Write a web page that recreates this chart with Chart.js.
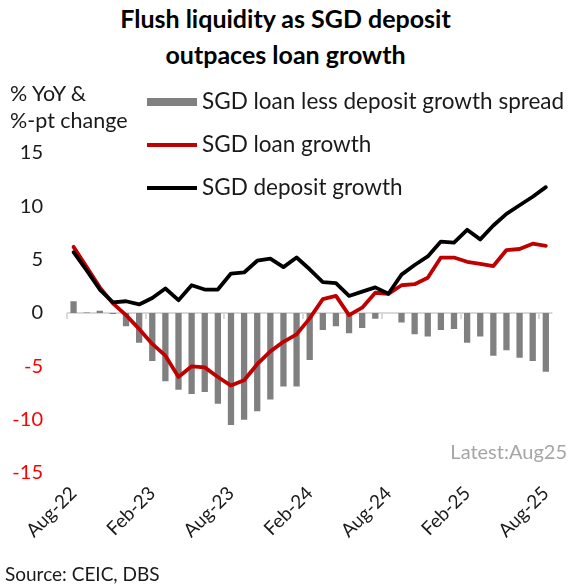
<!DOCTYPE html>
<html>
<head>
<meta charset="utf-8">
<script src="https://cdn.jsdelivr.net/npm/chart.js@4.4.1/dist/chart.umd.min.js"></script>
<style>
  html, body { margin: 0; padding: 0; background: #fff; }
  body { width: 571px; height: 586px; position: relative; overflow: hidden;
         font-family: Lato, "Open Sans", sans-serif; color: #1a1a1a; }
  #chart { position: absolute; left: 0; top: 0; }
  .txt { position: absolute; white-space: nowrap; line-height: 1; }
  #title { left: 0; width: 571px; top: 13px; text-align: center; font-weight: bold;
           font-size: 25px; line-height: 36px; color: #000; }
  #ytitle { left: 10px; top: 80px; font-size: 21.5px; line-height: 27px; }
  .leg { position: absolute; left: 147px; font-size: 22.5px; line-height: 1; white-space: nowrap; }
  .leg .sw { position: absolute; left: 0; width: 50px; }
  .leg span.t { position: absolute; left: 55px; top: -12px; }
  #latest { right: 4px; top: 441px; font-size: 20px; color: #a6a6a6; }
  #source { left: 5px; top: 564px; font-size: 19px; }
</style>
</head>
<body>
<canvas id="chart" width="571" height="586"></canvas>
<div id="title">Flush liquidity as SGD deposit<br>outpaces loan growth</div>
<div id="ytitle" class="txt">% YoY &amp;<br>%-pt change</div>
<div class="leg" style="top:102px"><div class="sw" style="top:-4px;height:8px;background:#808080"></div><span class="t">SGD loan less deposit growth spread</span></div>
<div class="leg" style="top:145px"><div class="sw" style="top:-2px;height:4px;background:#c00000"></div><span class="t">SGD loan growth</span></div>
<div class="leg" style="top:188px"><div class="sw" style="top:-2px;height:4px;background:#000"></div><span class="t">SGD deposit growth</span></div>
<div id="latest" class="txt">Latest:Aug25</div>
<div id="source" class="txt">Source: CEIC, DBS</div>

<script>
// ---------- data ----------
const months = [
  "Aug-22", "Sep-22", "Oct-22", "Nov-22", "Dec-22", "Jan-23", "Feb-23",
  "Mar-23", "Apr-23", "May-23", "Jun-23", "Jul-23", "Aug-23", "Sep-23",
  "Oct-23", "Nov-23", "Dec-23", "Jan-24", "Feb-24", "Mar-24", "Apr-24",
  "May-24", "Jun-24", "Jul-24", "Aug-24", "Sep-24", "Oct-24", "Nov-24",
  "Dec-24", "Jan-25", "Feb-25", "Mar-25", "Apr-25", "May-25", "Jun-25",
  "Jul-25", "Aug-25",
];

// SGD loan less deposit growth spread (%-pt change)
const spread = [
  1.1, 0.05, 0.2, -0.1, -1.25, -2.8, -4.5, -6.4, -7.2, -7.6, -7.4, -8.5,
  -10.5, -10.0, -9.2, -8.1, -6.9, -6.9, -4.4, -1.6, -1.25, -1.9, -1.4, -0.55,
  0.0, -0.9, -2.0, -2.2, -1.6, -1.5, -2.8, -2.2, -4.0, -3.5, -4.2, -4.5, -5.5,
];

// SGD loan growth (% YoY)
const loanGrowth = [
  6.2, 4.3, 2.4, 0.9, -0.2, -1.5, -2.9, -4.0, -6.0, -5.0, -5.1, -6.0,
  -6.8, -6.3, -4.8, -3.6, -2.7, -2.0, -0.5, 1.3, 1.6, -0.2, 0.5, 1.9,
  1.8, 2.6, 2.7, 3.3, 5.2, 5.2, 4.8, 4.6, 4.4, 5.9, 6.0, 6.5, 6.3,
];

// SGD deposit growth (% YoY)
const depositGrowth = [
  5.7, 4.0, 2.2, 1.0, 1.1, 0.8, 1.4, 2.3, 1.2, 2.6, 2.2, 2.2,
  3.7, 3.8, 4.9, 5.1, 4.3, 5.2, 4.1, 2.9, 2.8, 1.6, 2.0, 2.4,
  1.8, 3.6, 4.5, 5.3, 6.7, 6.6, 7.8, 6.9, 8.2, 9.3, 10.1, 10.9, 11.8,
];

const yMin = -15, yMax = 15, yStep = 5;
const labelEvery = 6; // show Aug / Feb only

// ---------- zero axis line with tick marks (Excel style) ----------
const zeroAxis = {
  id: "zeroAxis",
  beforeDatasetsDraw(chart) {
    const { ctx, chartArea, scales } = chart;
    const y0 = scales.y.getPixelForValue(0);
    const half = (chartArea.right - chartArea.left) / months.length / 2;
    ctx.save();
    ctx.strokeStyle = "#d9d9d9";
    ctx.lineWidth = 2;
    ctx.beginPath();
    ctx.moveTo(chartArea.left, y0);
    ctx.lineTo(chartArea.right, y0);
    for (let i = 0; i < months.length; i += labelEvery) {
      const x = Math.round(scales.x.getPixelForValue(i) - half);
      ctx.moveTo(x, y0);
      ctx.lineTo(x, y0 + 6);
    }
    ctx.stroke();
    ctx.restore();
  },
};

const FONT = "Lato, 'Open Sans', sans-serif";

new Chart(document.getElementById("chart"), {
  type: "bar",
  data: {
    labels: months,
    datasets: [
      {
        type: "line", label: "SGD deposit growth", data: depositGrowth,
        borderColor: "#000000", borderWidth: 3.8, pointRadius: 0,
        tension: 0, borderJoinStyle: "round", borderCapStyle: "round", order: 0,
      },
      {
        type: "line", label: "SGD loan growth", data: loanGrowth,
        borderColor: "#c00000", borderWidth: 3.8, pointRadius: 0,
        tension: 0, borderJoinStyle: "round", borderCapStyle: "round", order: 1,
      },
      {
        label: "SGD loan less deposit growth spread", data: spread,
        backgroundColor: "#808080", barPercentage: 0.48, categoryPercentage: 1,
        order: 2,
      },
    ],
  },
  options: {
    responsive: false,
    animation: false,
    devicePixelRatio: 1,
    layout: { padding: { top: 153, right: 4, left: 0, bottom: 0 } },
    plugins: { legend: { display: false }, tooltip: { enabled: false } },
    scales: {
      x: {
        grid: { display: false, drawTicks: false },
        border: { display: false },
        ticks: {
          autoSkip: false, maxRotation: 45, minRotation: 45, padding: 9,
          color: "#1a1a1a", font: { family: FONT, size: 19 },
          callback: (v, i) => (i % labelEvery === 0 ? months[i] : ""),
        },
        afterFit: (s) => { s.height = 113; },
      },
      y: {
        min: yMin, max: yMax,
        grid: { display: false, drawTicks: false },
        border: { display: false },
        ticks: {
          stepSize: yStep, padding: 24,
          color: (c) => (c.tick.value < 0 ? "#ff0000" : "#1a1a1a"),
          font: { family: FONT, size: 20 },
        },
        afterFit: (s) => { s.width = 67; },
      },
    },
  },
  plugins: [zeroAxis],
});
</script>
</body>
</html>
